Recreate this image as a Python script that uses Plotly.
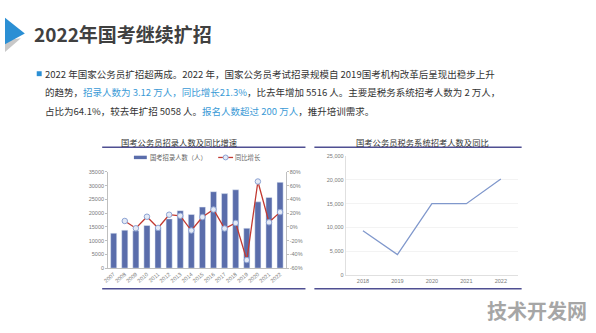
import plotly.graph_objects as go

# ---- data ----
years = [str(y) for y in range(2007, 2023)]
hires = [12700, 13800, 13600, 15500, 14500, 17900, 20900, 19500,
         22200, 27800, 27100, 28500, 14500, 24100, 25700, 31200]
growth = [None, 8.6, -2.0, 14.8, -1.5, 17.7, 16.2, -5.3,
          14.3, 25.3, -2.4, 5.7, -48.3, 66.0, 6.7, 21.5]
tax_years = ["2018", "2019", "2020", "2021", "2022"]
tax_hires = [9300, 4300, 15000, 15000, 20200]
left_ticks = [0, 5000, 10000, 15000, 20000, 25000, 30000, 35000]
right_ticks = [-60, -40, -20, 0, 20, 40, 60, 80]
tax_ticks = [0, 5000, 10000, 15000, 20000, 25000]

W, H = 596, 333
def px(x): return x / W
def py(y): return 1 - y / H

CJK = "Noto Sans CJK SC"
NUM = "Liberation Sans"
BAR = "#5a6dab"
LINE_RED = "#c23a32"
NAVY = "#4f4f92"
BLUE_TXT = "#3a9ad6"
DARK = "#333333"
TICK = "#7a7a7a"

fig = go.Figure()

fig.add_trace(go.Bar(x=years, y=hires, marker_color=BAR, xaxis="x", yaxis="y",
                     showlegend=False))
fig.add_trace(go.Scatter(x=years, y=growth, mode="lines+markers", xaxis="x", yaxis="y2",
                         line=dict(color=LINE_RED, width=1.3),
                         marker=dict(size=5.5, color="#e4eaf6",
                                     line=dict(color="#8da3d3", width=1)),
                         showlegend=False))
fig.add_trace(go.Scatter(x=tax_years, y=tax_hires, mode="lines", xaxis="x2", yaxis="y3",
                         line=dict(color="#8098cc", width=1.3), showlegend=False))

tickfont = dict(family=NUM, size=5.5, color=TICK)

fig.update_layout(
    width=W, height=H, autosize=False,
    margin=dict(l=0, r=0, t=0, b=0),
    paper_bgcolor="white", plot_bgcolor="white",
    bargap=0.45,
    xaxis=dict(domain=[px(104), px(283)], type="category", range=[-0.5, 15.5],
               tickangle=-40, tickfont=tickfont, showgrid=False,
               showline=True, linecolor="#bfbfbf", linewidth=1, ticks="",
               anchor="y", fixedrange=True),
    yaxis=dict(domain=[py(270), py(172)], range=[0, 35000], tickvals=left_ticks,
               ticktext=[str(v) for v in left_ticks], tickfont=tickfont,
               showgrid=False, showline=True, linecolor="#bfbfbf", linewidth=1,
               ticks="outside", ticklen=2, tickcolor="#bfbfbf", zeroline=False,
               anchor="x"),
    yaxis2=dict(domain=[py(270), py(172)], range=[-60, 80], tickvals=right_ticks,
                ticktext=[f"{v}%" for v in right_ticks], tickfont=tickfont,
                overlaying="y", side="right", anchor="x", showgrid=False,
                showline=True, linecolor="#bfbfbf", linewidth=1,
                ticks="outside", ticklen=2, tickcolor="#bfbfbf", zeroline=False),
    xaxis2=dict(domain=[px(343.6), px(517.4)], type="category", range=[-0.5, 4.5],
                tickfont=tickfont, showgrid=False, showline=True,
                linecolor="#e0e0e0", linewidth=1, ticks="", anchor="y3"),
    yaxis3=dict(domain=[py(277), py(156)], range=[0, 25000], tickvals=tax_ticks,
                ticktext=[f"{v:,}" for v in tax_ticks], tickfont=tickfont,
                showgrid=True, gridcolor="#f3f3f3", showline=True,
                linecolor="#e0e0e0", linewidth=1, zeroline=False, anchor="x2"),
)

shapes = []
# header triangle and shadow
shapes.append(dict(type="path", xref="paper", yref="paper",
                   path=f"M {px(0)} {py(38)} L {px(16)} {py(36)} L {px(0)} {py(50)} Z",
                   fillcolor="#c8c8c8", line=dict(width=0)))
shapes.append(dict(type="path", xref="paper", yref="paper",
                   path=f"M {px(0)} {py(15)} L {px(20)} {py(31)} L {px(0)} {py(42)} Z",
                   fillcolor="#2b8fd4", line=dict(width=0)))
# bullet square
shapes.append(dict(type="rect", xref="paper", yref="paper",
                   x0=px(32), x1=px(37), y0=py(74.5), y1=py(69.5),
                   fillcolor="#2b8fd4", line=dict(width=0)))
# panel rules
for x0, x1 in [(98, 303), (312, 521)]:
    for yy in (147, 291):
        shapes.append(dict(type="line", xref="paper", yref="paper",
                           x0=px(x0), x1=px(x1), y0=py(yy), y1=py(yy),
                           line=dict(color=NAVY, width=1.5)))
# legend icons (left chart)
shapes.append(dict(type="rect", xref="paper", yref="paper",
                   x0=px(130), x1=px(143), y0=py(159), y1=py(155.5),
                   fillcolor=BAR, line=dict(width=0)))
shapes.append(dict(type="line", xref="paper", yref="paper",
                   x0=px(215), x1=px(230), y0=py(157.3), y1=py(157.3),
                   line=dict(color=LINE_RED, width=1.3)))
shapes.append(dict(type="circle", xref="paper", yref="paper",
                   x0=px(220), x1=px(225), y0=py(159.8), y1=py(154.8),
                   fillcolor="#e4eaf6", line=dict(color="#8da3d3", width=1)))
fig.update_layout(shapes=shapes)

ann = []
def txt(x, y, s, size, color=DARK, family=CJK, xanchor="left"):
    ann.append(dict(x=px(x), y=py(y), xref="paper", yref="paper", text=s,
                    showarrow=False, xanchor=xanchor, yanchor="middle",
                    borderpad=0, font=dict(family=family, size=size, color=color)))

txt(28, 31, "<b>2022年国考继续扩招</b>", 19, "#404040")
b = lambda s: f"<span style='color:{BLUE_TXT}'>{s}</span>"
txt(39, 72, "2022 年国家公务员扩招超两成。2022 年，国家公务员考试招录规模自 2019国考机构改革后呈现出稳步上升", 9.5)
txt(39, 91, "的趋势，" + b("招录人数为 3.12 万人，同比增长21.3%") + "，比去年增加 5516 人。主要是税务系统招考人数为 2 万人，", 9.5)
txt(39, 110, "占比为64.1%，较去年扩招 5058 人。" + b("报名人数超过 200 万人") + "，推升培训需求。", 9.5)

txt(175, 141.5, "国考公务员招录人数及同比增速", 8.3, "#333333", xanchor="center")
txt(421, 141.5, "国考公务员税务系统招考人数及同比", 8.3, "#333333", xanchor="center")
txt(145, 157.5, "国考招录人数（人）", 6.3, "#666666")
txt(231, 157.5, "同比增长", 6.3, "#666666")

txt(537, 313, "<b>技术开发网</b>", 20, "#a6a6a6", xanchor="center")
fig.update_layout(annotations=ann)

fig.write_html("out.html")
